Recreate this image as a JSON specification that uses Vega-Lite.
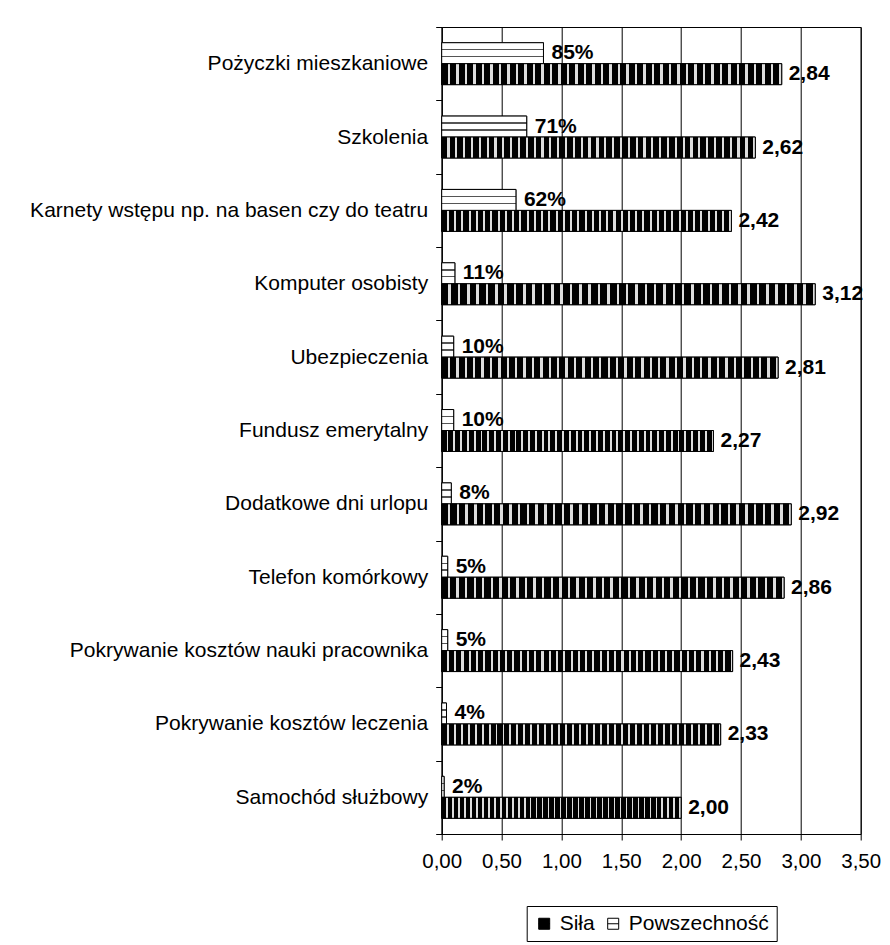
{
  "$schema": "https://vega.github.io/schema/vega-lite/v6.json",
  "autosize": "none",
  "width": 419,
  "height": 807,
  "padding": {"left": 441.7, "top": 27, "right": 29.3, "bottom": 111},
  "background": "white",
  "config": {
    "locale": {"number": {"decimal": ",", "thousands": " ", "grouping": [3], "currency": ["", " zł"]}},
    "font": "Liberation Sans",
    "view": {"stroke": "black", "strokeWidth": 1}
  },
  "datasets": {
    "dane": [
      {"kategoria": "Pożyczki mieszkaniowe", "seria": "Powszechność", "wartosc": 0.85},
      {"kategoria": "Pożyczki mieszkaniowe", "seria": "Siła", "wartosc": 2.84},
      {"kategoria": "Szkolenia", "seria": "Powszechność", "wartosc": 0.71},
      {"kategoria": "Szkolenia", "seria": "Siła", "wartosc": 2.62},
      {"kategoria": "Karnety wstępu np. na basen czy do teatru", "seria": "Powszechność", "wartosc": 0.62},
      {"kategoria": "Karnety wstępu np. na basen czy do teatru", "seria": "Siła", "wartosc": 2.42},
      {"kategoria": "Komputer osobisty", "seria": "Powszechność", "wartosc": 0.11},
      {"kategoria": "Komputer osobisty", "seria": "Siła", "wartosc": 3.12},
      {"kategoria": "Ubezpieczenia", "seria": "Powszechność", "wartosc": 0.10},
      {"kategoria": "Ubezpieczenia", "seria": "Siła", "wartosc": 2.81},
      {"kategoria": "Fundusz emerytalny", "seria": "Powszechność", "wartosc": 0.10},
      {"kategoria": "Fundusz emerytalny", "seria": "Siła", "wartosc": 2.27},
      {"kategoria": "Dodatkowe dni urlopu", "seria": "Powszechność", "wartosc": 0.08},
      {"kategoria": "Dodatkowe dni urlopu", "seria": "Siła", "wartosc": 2.92},
      {"kategoria": "Telefon komórkowy", "seria": "Powszechność", "wartosc": 0.05},
      {"kategoria": "Telefon komórkowy", "seria": "Siła", "wartosc": 2.86},
      {"kategoria": "Pokrywanie kosztów nauki pracownika", "seria": "Powszechność", "wartosc": 0.05},
      {"kategoria": "Pokrywanie kosztów nauki pracownika", "seria": "Siła", "wartosc": 2.43},
      {"kategoria": "Pokrywanie kosztów leczenia", "seria": "Powszechność", "wartosc": 0.04},
      {"kategoria": "Pokrywanie kosztów leczenia", "seria": "Siła", "wartosc": 2.33},
      {"kategoria": "Samochód służbowy", "seria": "Powszechność", "wartosc": 0.02},
      {"kategoria": "Samochód służbowy", "seria": "Siła", "wartosc": 2.00}
    ]
  },
  "data": {"name": "dane"},
  "encoding": {
    "y": {
      "field": "kategoria", "type": "nominal", "sort": null,
      "scale": {"paddingInner": 0, "paddingOuter": 0},
      "axis": {
        "title": null, "labelFontSize": 21, "labelColor": "black", "labelFont": "Liberation Sans",
        "tickBand": "extent", "tickSize": 6, "tickColor": "black", "domainColor": "black",
        "labelPadding": 8, "labelLimit": 600
      }
    },
    "x": {
      "field": "wartosc", "type": "quantitative",
      "scale": {"domain": [0, 3.5], "nice": false, "zero": true},
      "axis": {
        "title": null, "values": [0, 0.5, 1, 1.5, 2, 2.5, 3, 3.5], "format": ".2f",
        "labelFontSize": 20.5, "labelColor": "black", "labelFont": "Liberation Sans",
        "labelFlush": false, "labelOverlap": false,
        "tickSize": 6, "tickColor": "black", "domainColor": "black", "labelPadding": 11,
        "grid": true, "gridColor": "black", "gridOpacity": 1
      }
    },
    "yOffset": {
      "field": "seria", "type": "nominal",
      "scale": {"domain": ["Powszechność", "Siła"], "paddingInner": 0, "paddingOuter": 0.75}
    }
  },
  "layer": [
    {
      "mark": {"type": "bar", "stroke": "black", "strokeWidth": 1},
      "encoding": {
        "fill": {
          "field": "seria", "type": "nominal",
          "scale": {"domain": ["Siła", "Powszechność"], "range": ["black", "white"]},
          "legend": {
            "title": null, "orient": "none", "legendX": 85, "legendY": 879, "direction": "horizontal",
            "labelFontSize": 21, "labelFont": "Liberation Sans", "labelColor": "black",
            "symbolType": "M-1,-1H1V1H-1Z M-1,0H1", "symbolSize": 121, "symbolStrokeColor": "black", "symbolStrokeWidth": 1,
            "strokeColor": "black", "fillColor": "white", "padding": 7, "columnPadding": 7, "labelOffset": 5
          }
        }
      }
    },
    {
      "mark": {"type": "bar", "stroke": "black", "strokeWidth": 1},
      "encoding": {
        "fill": {
          "condition": {"test": "datum.seria === 'Siła'", "value":
              {"gradient": "linear", "x1": 0, "y1": 0, "x2": 1, "y2": 0, "stops": [
                {"offset": 0, "color": "#000"}, {"offset": 0.018, "color": "#000"}, {"offset": 0.018, "color": "#ddd"}, {"offset": 0.025, "color": "#ddd"},
                {"offset": 0.025, "color": "#000"}, {"offset": 0.043, "color": "#000"}, {"offset": 0.043, "color": "#ddd"}, {"offset": 0.05, "color": "#ddd"},
                {"offset": 0.05, "color": "#000"}, {"offset": 0.068, "color": "#000"}, {"offset": 0.068, "color": "#ddd"}, {"offset": 0.075, "color": "#ddd"},
                {"offset": 0.075, "color": "#000"}, {"offset": 0.093, "color": "#000"}, {"offset": 0.093, "color": "#ddd"}, {"offset": 0.1, "color": "#ddd"},
                {"offset": 0.1, "color": "#000"}, {"offset": 0.118, "color": "#000"}, {"offset": 0.118, "color": "#ddd"}, {"offset": 0.125, "color": "#ddd"},
                {"offset": 0.125, "color": "#000"}, {"offset": 0.143, "color": "#000"}, {"offset": 0.143, "color": "#ddd"}, {"offset": 0.15, "color": "#ddd"},
                {"offset": 0.15, "color": "#000"}, {"offset": 0.168, "color": "#000"}, {"offset": 0.168, "color": "#ddd"}, {"offset": 0.175, "color": "#ddd"},
                {"offset": 0.175, "color": "#000"}, {"offset": 0.193, "color": "#000"}, {"offset": 0.193, "color": "#ddd"}, {"offset": 0.2, "color": "#ddd"},
                {"offset": 0.2, "color": "#000"}, {"offset": 0.218, "color": "#000"}, {"offset": 0.218, "color": "#ddd"}, {"offset": 0.225, "color": "#ddd"},
                {"offset": 0.225, "color": "#000"}, {"offset": 0.243, "color": "#000"}, {"offset": 0.243, "color": "#ddd"}, {"offset": 0.25, "color": "#ddd"},
                {"offset": 0.25, "color": "#000"}, {"offset": 0.268, "color": "#000"}, {"offset": 0.268, "color": "#ddd"}, {"offset": 0.275, "color": "#ddd"},
                {"offset": 0.275, "color": "#000"}, {"offset": 0.293, "color": "#000"}, {"offset": 0.293, "color": "#ddd"}, {"offset": 0.3, "color": "#ddd"},
                {"offset": 0.3, "color": "#000"}, {"offset": 0.318, "color": "#000"}, {"offset": 0.318, "color": "#ddd"}, {"offset": 0.325, "color": "#ddd"},
                {"offset": 0.325, "color": "#000"}, {"offset": 0.343, "color": "#000"}, {"offset": 0.343, "color": "#ddd"}, {"offset": 0.35, "color": "#ddd"},
                {"offset": 0.35, "color": "#000"}, {"offset": 0.368, "color": "#000"}, {"offset": 0.368, "color": "#ddd"}, {"offset": 0.375, "color": "#ddd"},
                {"offset": 0.375, "color": "#000"}, {"offset": 0.393, "color": "#000"}, {"offset": 0.393, "color": "#ddd"}, {"offset": 0.4, "color": "#ddd"},
                {"offset": 0.4, "color": "#000"}, {"offset": 0.418, "color": "#000"}, {"offset": 0.418, "color": "#ddd"}, {"offset": 0.425, "color": "#ddd"},
                {"offset": 0.425, "color": "#000"}, {"offset": 0.443, "color": "#000"}, {"offset": 0.443, "color": "#ddd"}, {"offset": 0.45, "color": "#ddd"},
                {"offset": 0.45, "color": "#000"}, {"offset": 0.468, "color": "#000"}, {"offset": 0.468, "color": "#ddd"}, {"offset": 0.475, "color": "#ddd"},
                {"offset": 0.475, "color": "#000"}, {"offset": 0.493, "color": "#000"}, {"offset": 0.493, "color": "#ddd"}, {"offset": 0.5, "color": "#ddd"},
                {"offset": 0.5, "color": "#000"}, {"offset": 0.518, "color": "#000"}, {"offset": 0.518, "color": "#ddd"}, {"offset": 0.525, "color": "#ddd"},
                {"offset": 0.525, "color": "#000"}, {"offset": 0.543, "color": "#000"}, {"offset": 0.543, "color": "#ddd"}, {"offset": 0.55, "color": "#ddd"},
                {"offset": 0.55, "color": "#000"}, {"offset": 0.568, "color": "#000"}, {"offset": 0.568, "color": "#ddd"}, {"offset": 0.575, "color": "#ddd"},
                {"offset": 0.575, "color": "#000"}, {"offset": 0.593, "color": "#000"}, {"offset": 0.593, "color": "#ddd"}, {"offset": 0.6, "color": "#ddd"},
                {"offset": 0.6, "color": "#000"}, {"offset": 0.618, "color": "#000"}, {"offset": 0.618, "color": "#ddd"}, {"offset": 0.625, "color": "#ddd"},
                {"offset": 0.625, "color": "#000"}, {"offset": 0.643, "color": "#000"}, {"offset": 0.643, "color": "#ddd"}, {"offset": 0.65, "color": "#ddd"},
                {"offset": 0.65, "color": "#000"}, {"offset": 0.668, "color": "#000"}, {"offset": 0.668, "color": "#ddd"}, {"offset": 0.675, "color": "#ddd"},
                {"offset": 0.675, "color": "#000"}, {"offset": 0.693, "color": "#000"}, {"offset": 0.693, "color": "#ddd"}, {"offset": 0.7, "color": "#ddd"},
                {"offset": 0.7, "color": "#000"}, {"offset": 0.718, "color": "#000"}, {"offset": 0.718, "color": "#ddd"}, {"offset": 0.725, "color": "#ddd"},
                {"offset": 0.725, "color": "#000"}, {"offset": 0.743, "color": "#000"}, {"offset": 0.743, "color": "#ddd"}, {"offset": 0.75, "color": "#ddd"},
                {"offset": 0.75, "color": "#000"}, {"offset": 0.768, "color": "#000"}, {"offset": 0.768, "color": "#ddd"}, {"offset": 0.775, "color": "#ddd"},
                {"offset": 0.775, "color": "#000"}, {"offset": 0.793, "color": "#000"}, {"offset": 0.793, "color": "#ddd"}, {"offset": 0.8, "color": "#ddd"},
                {"offset": 0.8, "color": "#000"}, {"offset": 0.818, "color": "#000"}, {"offset": 0.818, "color": "#ddd"}, {"offset": 0.825, "color": "#ddd"},
                {"offset": 0.825, "color": "#000"}, {"offset": 0.843, "color": "#000"}, {"offset": 0.843, "color": "#ddd"}, {"offset": 0.85, "color": "#ddd"},
                {"offset": 0.85, "color": "#000"}, {"offset": 0.868, "color": "#000"}, {"offset": 0.868, "color": "#ddd"}, {"offset": 0.875, "color": "#ddd"},
                {"offset": 0.875, "color": "#000"}, {"offset": 0.893, "color": "#000"}, {"offset": 0.893, "color": "#ddd"}, {"offset": 0.9, "color": "#ddd"},
                {"offset": 0.9, "color": "#000"}, {"offset": 0.918, "color": "#000"}, {"offset": 0.918, "color": "#ddd"}, {"offset": 0.925, "color": "#ddd"},
                {"offset": 0.925, "color": "#000"}, {"offset": 0.943, "color": "#000"}, {"offset": 0.943, "color": "#ddd"}, {"offset": 0.95, "color": "#ddd"},
                {"offset": 0.95, "color": "#000"}, {"offset": 0.968, "color": "#000"}, {"offset": 0.968, "color": "#ddd"}, {"offset": 0.975, "color": "#ddd"},
                {"offset": 0.975, "color": "#000"}, {"offset": 0.993, "color": "#000"}, {"offset": 0.993, "color": "#ddd"}, {"offset": 1, "color": "#ddd"}
              ]}},
          "value": {"gradient": "linear", "x1": 0, "y1": 0, "x2": 0, "y2": 1, "stops": [
                {"offset": 0, "color": "white"}, {"offset": 0.3, "color": "white"},
                {"offset": 0.3, "color": "#555"}, {"offset": 0.37, "color": "#555"},
                {"offset": 0.37, "color": "white"}, {"offset": 0.63, "color": "white"},
                {"offset": 0.63, "color": "#555"}, {"offset": 0.7, "color": "#555"},
                {"offset": 0.7, "color": "white"}, {"offset": 1, "color": "white"}
              ]}
        }
      }
    },
    {
      "transform": [{"filter": "datum.seria === 'Powszechność'"}],
      "mark": {"type": "text", "align": "left", "baseline": "middle", "dx": 8, "fontSize": 21, "fontWeight": "bold", "color": "black"},
      "encoding": {"text": {"field": "wartosc", "type": "quantitative", "format": ".0%"}}
    },
    {
      "transform": [{"filter": "datum.seria === 'Siła'"}],
      "mark": {"type": "text", "align": "left", "baseline": "middle", "dx": 7, "fontSize": 21, "fontWeight": "bold", "color": "black"},
      "encoding": {"text": {"field": "wartosc", "type": "quantitative", "format": ".2f"}}
    }
  ]
}
